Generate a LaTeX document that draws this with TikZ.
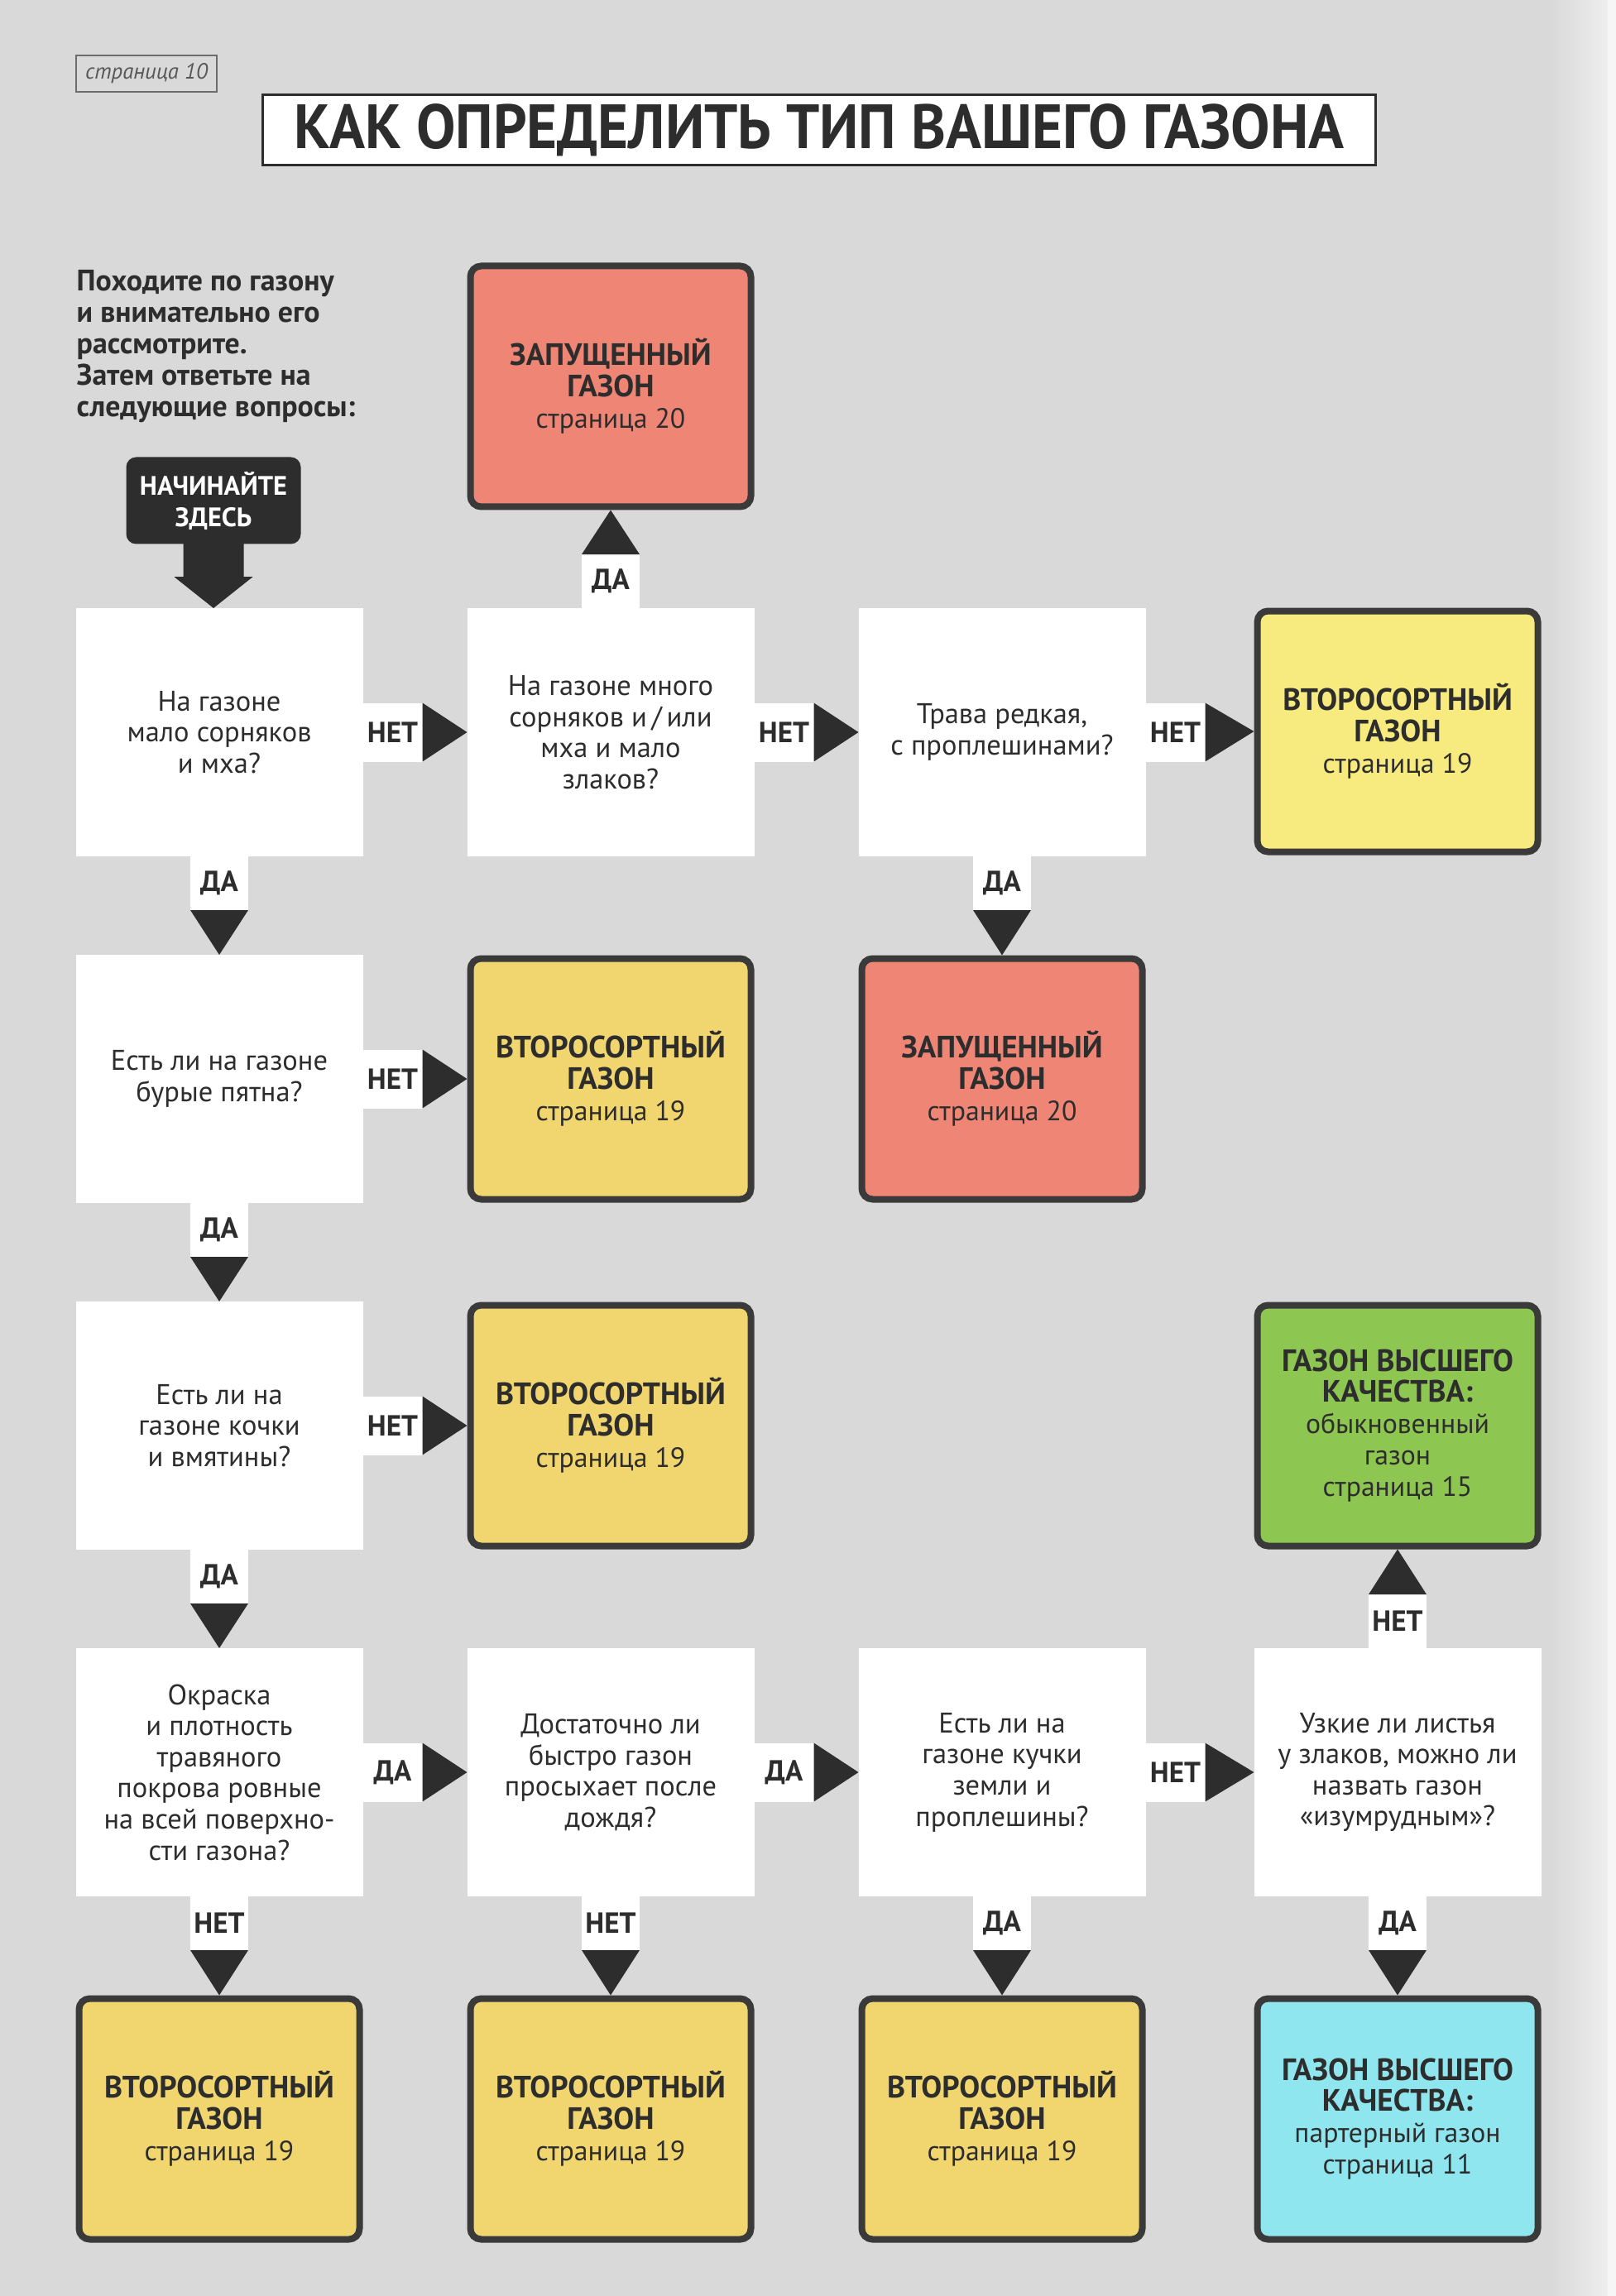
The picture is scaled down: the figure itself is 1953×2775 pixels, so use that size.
\documentclass[tikz,border=0pt]{standalone}
\usepackage{fontspec}
\setmainfont{PT Sans}
\usetikzlibrary{calc}

\definecolor{paper}{RGB}{217,217,217}
\definecolor{ink}{RGB}{45,45,45}
\definecolor{frame}{RGB}{58,58,58}
\definecolor{redbox}{RGB}{239,134,117}
\definecolor{paleyellow}{RGB}{247,234,126}
\definecolor{goldyellow}{RGB}{241,214,112}
\definecolor{greenbox}{RGB}{142,198,82}
\definecolor{cyanbox}{RGB}{143,230,238}

\newcommand\qfont{\fontsize{9.8pt}{10.7pt}\selectfont}
\newcommand\rfont{\fontsize{9.6pt}{10.8pt}\selectfont}
\newcommand\lblfont{\fontsize{10pt}{11pt}\selectfont\bfseries}
% bold heading line inside an outcome box
\newcommand\hd[1]{{\fontsize{10.6pt}{10.8pt}\selectfont\bfseries #1}}

% connector: white tab carrying the label, then a dark triangular head
\newcommand\goright[3]{%
  \node[tabh, anchor=west] (#1-#2) at (#1.east) {#3};
  \fill[ink] (#1-#2.north east) -- (#1-#2.south east) -- (#2.west) -- cycle;}
\newcommand\godown[3]{%
  \node[tabv, anchor=north] (#1-#2) at (#1.south) {#3};
  \fill[ink] (#1-#2.south west) -- (#1-#2.south east) -- (#2.north) -- cycle;}
\newcommand\goup[3]{%
  \node[tabv, anchor=south] (#1-#2) at (#1.north) {#3};
  \fill[ink] (#1-#2.north west) -- (#1-#2.north east) -- (#2.south) -- cycle;}

\begin{document}
\begin{tikzpicture}[x=0.1mm, y=-0.1mm,
  question/.style={fill=white, minimum width=34.7mm, minimum height=30mm,
    inner sep=0pt, outer sep=0pt, align=center, text=ink, font=\qfont},
  result/.style={draw=frame, line width=0.8mm, rounded corners=1.3mm,
    minimum width=33.9mm, minimum height=29.1mm, inner sep=0pt,
    align=center, text=ink, font=\rfont},
  tabh/.style={fill=white, minimum width=7.2mm, minimum height=7.1mm,
    inner sep=0pt, outer sep=0pt, text=ink, font=\lblfont},
  tabv/.style={fill=white, minimum width=7.0mm, minimum height=6.5mm,
    inner sep=0pt, outer sep=0pt, text=ink, font=\lblfont},
  startbox/.style={fill=ink, rounded corners=1.2mm, minimum width=21.1mm,
    minimum height=10.5mm, inner sep=0pt, align=center, text=white,
    font=\fontsize{9.2pt}{10.8pt}\selectfont\bfseries}]

\useasboundingbox (0,0) rectangle (1953,2775);
\fill[paper] (0,0) rectangle (1953,2775);
\shade[left color=paper, right color=paper!45!white] (1875,0) rectangle (1943,2775);
\fill[paper!25!white] (1943,0) rectangle (1953,2775);

% page label and heading
\node[draw=ink!70, line width=0.25mm, minimum width=17mm, minimum height=4.4mm,
  inner sep=0pt, text=ink!80, font=\fontsize{7.6pt}{8pt}\selectfont\itshape]
  (pagelabel) at (177,89) {страница 10};
\node[draw=ink, line width=0.3mm, fill=white, minimum width=134.5mm,
  minimum height=8.5mm, inner sep=0pt, text=ink,
  font=\fontsize{21.5pt}{24pt}\selectfont\bfseries]
  (heading) at (990,157) {\scalebox{0.94}[1]{КАК ОПРЕДЕЛИТЬ ТИП ВАШЕГО ГАЗОНА}};

% introduction
\node[anchor=north west, inner sep=0pt, align=left, text=ink,
  font=\fontsize{10.2pt}{10.8pt}\selectfont\bfseries] (intro) at (92,326)
  {Походите по газону\\и внимательно его\\рассмотрите.\\Затем ответьте на\\следующие вопросы:};

% start marker
\node[startbox] (start) at (258,605) {НАЧИНАЙТЕ\\ЗДЕСЬ};

% questions
\node[question] (q1) at (265,885) {На газоне\\мало сорняков\\и мха?};
\node[question] (q2) at (738,885) {На газоне много\\сорняков и\,/\,или\\мха и мало\\злаков?};
\node[question] (q3) at (1211,885) {Трава редкая,\\с проплешинами?};
\node[question] (q4) at (265,1304) {Есть ли на газоне\\бурые пятна?};
\node[question] (q5) at (265,1723) {Есть ли на\\газоне кочки\\и вмятины?};
\node[question] (q6) at (265,2142) {Окраска\\и плотность\\травяного\\покрова ровные\\на всей поверхно-\\сти газона?};
\node[question] (q7) at (738,2142) {Достаточно ли\\быстро газон\\просыхает после\\дождя?};
\node[question] (q8) at (1211,2142) {Есть ли на\\газоне кучки\\земли и\\проплешины?};
\node[question] (q9) at (1689,2142) {Узкие ли листья\\у злаков, можно ли\\назвать газон\\«изумрудным»?};

% outcomes
\node[result, fill=redbox] (neglectA) at (738,467) {\hd{ЗАПУЩЕННЫЙ}\\\hd{ГАЗОН}\\страница 20};
\node[result, fill=paleyellow] (secondA) at (1689,884) {\hd{ВТОРОСОРТНЫЙ}\\\hd{ГАЗОН}\\страница 19};
\node[result, fill=goldyellow] (secondB) at (738,1304) {\hd{ВТОРОСОРТНЫЙ}\\\hd{ГАЗОН}\\страница 19};
\node[result, fill=redbox] (neglectB) at (1211,1304) {\hd{ЗАПУЩЕННЫЙ}\\\hd{ГАЗОН}\\страница 20};
\node[result, fill=goldyellow] (secondC) at (738,1723) {\hd{ВТОРОСОРТНЫЙ}\\\hd{ГАЗОН}\\страница 19};
\node[result, fill=greenbox] (topA) at (1689,1723) {\hd{ГАЗОН ВЫСШЕГО}\\\hd{КАЧЕСТВА:}\\обыкновенный\\газон\\страница 15};
\node[result, fill=goldyellow] (secondD) at (265,2561) {\hd{ВТОРОСОРТНЫЙ}\\\hd{ГАЗОН}\\страница 19};
\node[result, fill=goldyellow] (secondE) at (738,2561) {\hd{ВТОРОСОРТНЫЙ}\\\hd{ГАЗОН}\\страница 19};
\node[result, fill=goldyellow] (secondF) at (1211,2561) {\hd{ВТОРОСОРТНЫЙ}\\\hd{ГАЗОН}\\страница 19};
\node[result, fill=cyanbox] (topB) at (1689,2561) {\hd{ГАЗОН ВЫСШЕГО}\\\hd{КАЧЕСТВА:}\\партерный газон\\страница 11};

% block arrow from the start marker
\fill[ink] ($(start.south)+(-36.5,-3)$) -- ($(start.south)+(-36.5,39)$)
  -- ($(start.south)+(-47.5,39)$) -- (start.south |- q1.north)
  -- ($(start.south)+(47.5,39)$) -- ($(start.south)+(36.5,39)$)
  -- ($(start.south)+(36.5,-3)$) -- cycle;

% connectors
\goright{q1}{q2}{НЕТ}
\godown{q1}{q4}{ДА}
\goup{q2}{neglectA}{ДА}
\goright{q2}{q3}{НЕТ}
\goright{q3}{secondA}{НЕТ}
\godown{q3}{neglectB}{ДА}
\goright{q4}{secondB}{НЕТ}
\godown{q4}{q5}{ДА}
\goright{q5}{secondC}{НЕТ}
\godown{q5}{q6}{ДА}
\goright{q6}{q7}{ДА}
\godown{q6}{secondD}{НЕТ}
\goright{q7}{q8}{ДА}
\godown{q7}{secondE}{НЕТ}
\goright{q8}{q9}{НЕТ}
\godown{q8}{secondF}{ДА}
\goup{q9}{topA}{НЕТ}
\godown{q9}{topB}{ДА}
\end{tikzpicture}
\end{document}
